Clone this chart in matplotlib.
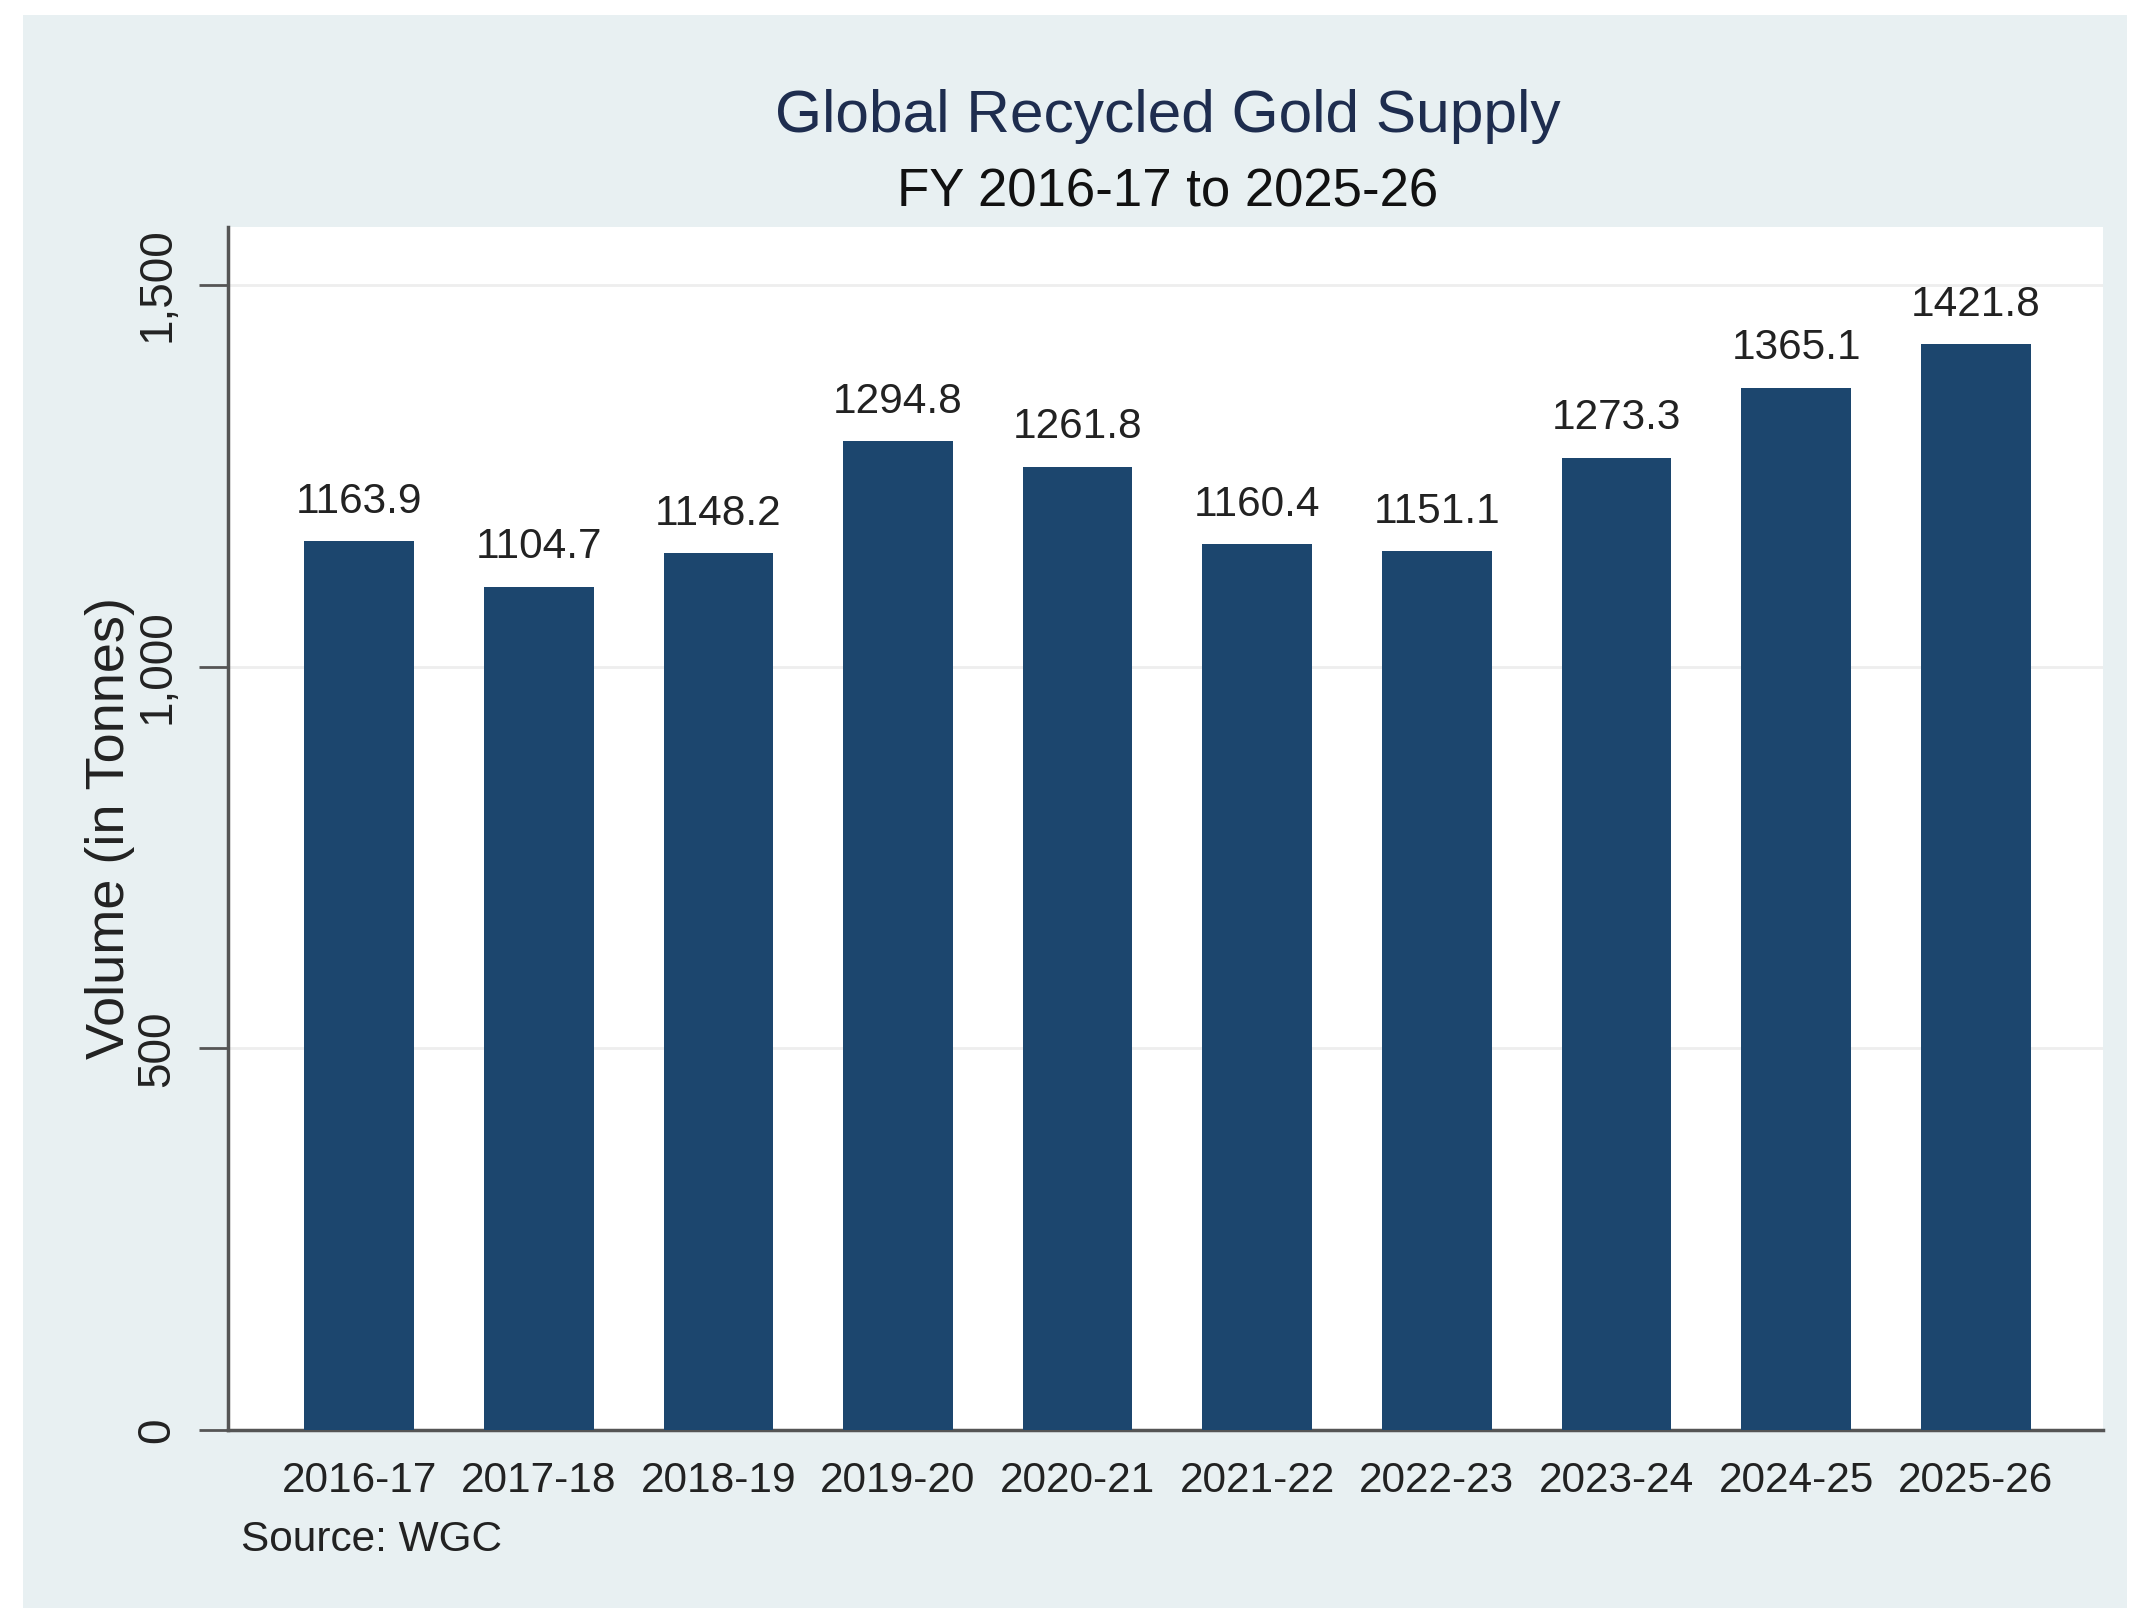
import matplotlib
matplotlib.use("Agg")
from matplotlib import pyplot as plt
from matplotlib.patches import Rectangle
from matplotlib.ticker import FuncFormatter

years = ['2016-17', '2017-18', '2018-19', '2019-20', '2020-21',
         '2021-22', '2022-23', '2023-24', '2024-25', '2025-26']
supply = [1163.9, 1104.7, 1148.2, 1294.8, 1261.8,
          1160.4, 1151.1, 1273.3, 1365.1, 1421.8]
yticks = [0, 500, 1000, 1500]

plt.rcParams['font.family'] = ['Liberation Sans', 'DejaVu Sans']

fig = plt.figure(figsize=(21.31, 16.14), dpi=100)
fig.patch.set_facecolor('white')

# light bluish graph region behind the plot
fig.patches.append(Rectangle((0.011, 0.004), 0.987, 0.987, transform=fig.transFigure,
                             facecolor='#e8f0f2', edgecolor='none', zorder=-1))

ax = fig.add_axes([0.107, 0.114, 0.880, 0.7455])
ax.set_zorder(1)
ax.set_facecolor('white')

x = range(len(years))
bars = ax.bar(x, supply, width=0.61, color='#1c466e', zorder=3)

for xi, v in zip(x, supply):
    ax.annotate(f'{v:.1f}', (xi, v), xytext=(0, 14), textcoords='offset points',
                ha='center', va='bottom', fontsize=30.5, color='#222222')

ax.set_xlim(-0.73, 9.71)
ax.set_ylim(0, 1576)
ax.set_xticks(list(x))
ax.set_xticklabels(years, fontsize=30.5, color='#222222')
ax.tick_params(axis='x', length=0, pad=22)

ax.set_yticks(yticks)
ax.yaxis.set_major_formatter(FuncFormatter(lambda v, p: f'{int(v):,}'))
ax.tick_params(axis='y', length=21, width=2, color='#555555', pad=14,
               labelsize=33, labelcolor='#222222')
for lbl in ax.get_yticklabels():
    lbl.set_rotation(90)
    lbl.set_va('center')

ax.grid(axis='y', color='#eeeeee', linewidth=2, zorder=0)
for side in ['top', 'right']:
    ax.spines[side].set_visible(False)
for side in ['left', 'bottom']:
    ax.spines[side].set_color('#555555')
    ax.spines[side].set_linewidth(2.5)

ax.set_ylabel('Volume (in Tonnes)', fontsize=39, color='#222222', labelpad=0)

fig.text(0.548, 0.9276, 'Global Recycled Gold Supply', ha='center', va='center',
         fontsize=43.5, color='#1e2d4f')
fig.text(0.548, 0.8805, 'FY 2016-17 to 2025-26', ha='center', va='center',
         fontsize=38, color='#111111')
fig.text(0.113, 0.046, 'Source: WGC', ha='left', va='center',
         fontsize=30.5, color='#222222')

fig.savefig('out.png', dpi=100, facecolor=fig.get_facecolor())
